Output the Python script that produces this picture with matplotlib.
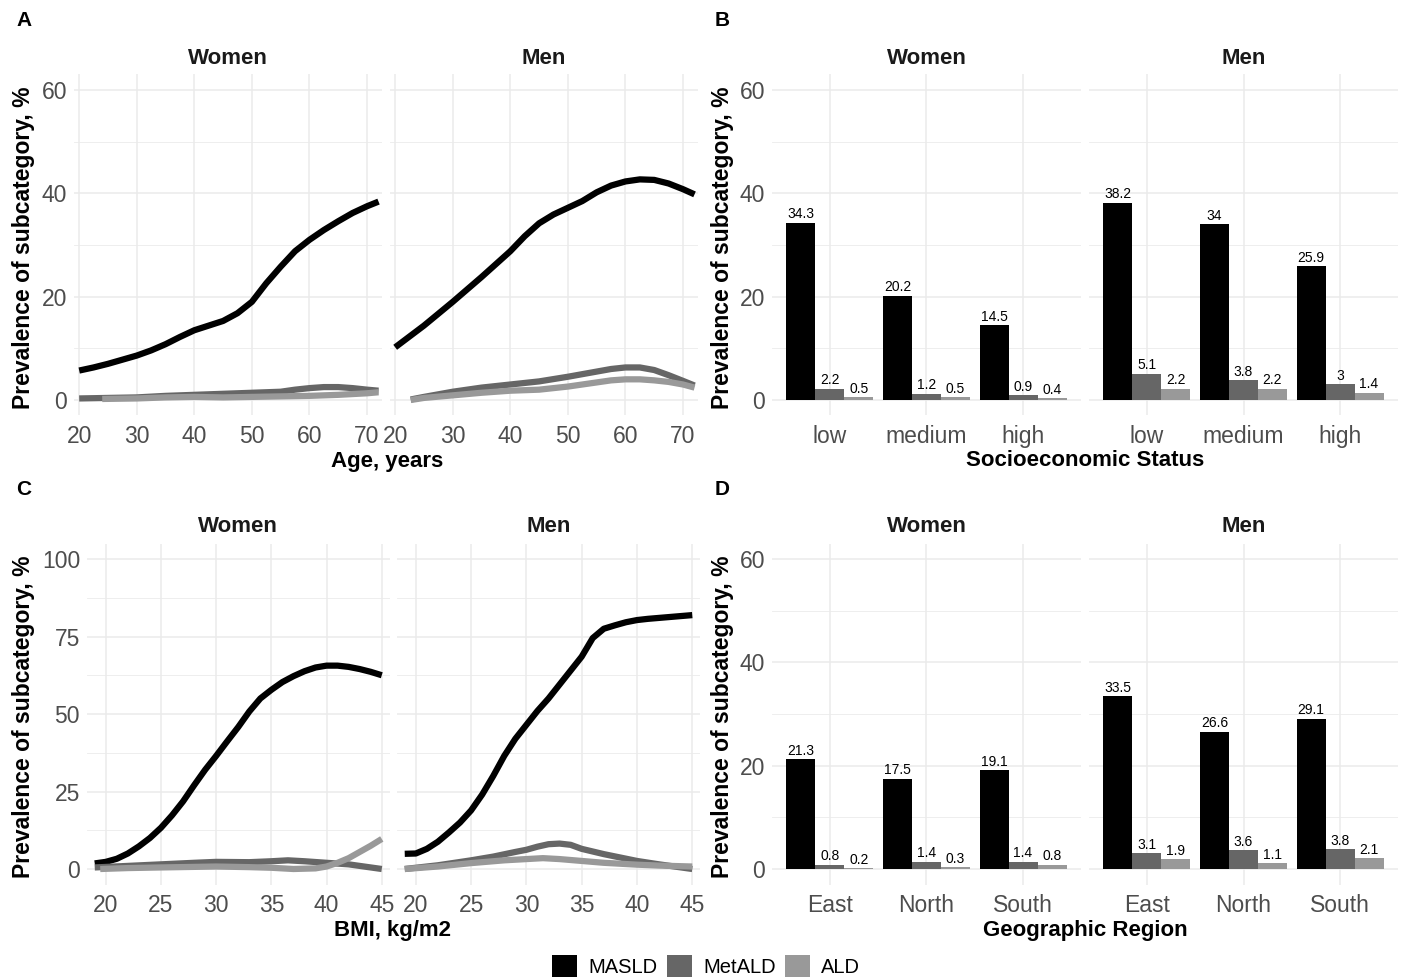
import matplotlib
matplotlib.use("Agg")
import matplotlib.pyplot as plt
from matplotlib.patches import Patch
import numpy as np

plt.rcParams['font.family'] = ['Liberation Sans', 'DejaVu Sans']

# ---------------- data ----------------
series_names = ["MASLD", "MetALD", "ALD"]
series_colors = ["#000000", "#666666", "#999999"]
sexes = ["Women", "Men"]

# Panel A: prevalence by age
age_w_masld_x = [20, 22.5, 25, 27.5, 30, 32.5, 35, 37.5, 40, 42.5, 45, 47.5, 50, 52.5, 55, 57.5, 60, 62.5, 65, 67.5, 70, 72]
age_w_masld_y = [5.7, 6.3, 7.0, 7.8, 8.6, 9.6, 10.8, 12.2, 13.5, 14.4, 15.3, 16.8, 19.0, 22.6, 25.8, 28.8, 31.0, 32.9, 34.6, 36.2, 37.5, 38.4]
age_w_metald_x = [20, 25, 30, 35, 40, 45, 50, 55, 57.5, 60, 62.5, 65, 67.5, 70, 72]
age_w_metald_y = [0.3, 0.4, 0.5, 0.8, 1.0, 1.2, 1.4, 1.6, 2.0, 2.3, 2.5, 2.5, 2.3, 2.0, 1.8]
age_w_ald_x = [24, 30, 35, 40, 45, 50, 55, 60, 65, 70, 72]
age_w_ald_y = [0.2, 0.3, 0.5, 0.6, 0.5, 0.6, 0.7, 0.8, 1.0, 1.3, 1.5]

age_m_masld_x = [20, 22.5, 25, 27.5, 30, 32.5, 35, 37.5, 40, 42.5, 45, 47.5, 50, 52.5, 55, 57.5, 60, 62.5, 65, 67.5, 70, 72]
age_m_masld_y = [10.2, 12.3, 14.4, 16.7, 19.0, 21.4, 23.8, 26.3, 28.8, 31.7, 34.2, 35.9, 37.2, 38.5, 40.2, 41.5, 42.3, 42.7, 42.6, 41.9, 40.8, 39.8]
age_m_metald_x = [22.7, 25, 30, 35, 40, 45, 50, 55, 57.5, 60, 62.5, 65, 67.5, 70, 72]
age_m_metald_y = [0.1, 0.6, 1.6, 2.4, 3.0, 3.6, 4.5, 5.5, 6.0, 6.3, 6.3, 5.8, 4.8, 3.7, 2.8]
age_m_ald_x = [22.7, 25, 30, 35, 40, 45, 50, 55, 57.5, 60, 62.5, 65, 67.5, 70, 72]
age_m_ald_y = [0.0, 0.4, 0.9, 1.4, 1.8, 2.0, 2.6, 3.4, 3.8, 4.0, 4.0, 3.8, 3.5, 3.0, 2.4]

# Panel C: prevalence by BMI
bmi_w_masld_x = [19, 20, 21, 22, 23, 24, 25, 26, 27, 28, 29, 30, 31, 32, 33, 34, 35, 36, 37, 38, 39, 40, 41, 42, 43, 44, 45]
bmi_w_masld_y = [1.8, 2.3, 3.3, 5.0, 7.3, 10.0, 13.3, 17.3, 21.8, 27.0, 32.0, 36.5, 41.2, 45.8, 50.8, 55.0, 57.8, 60.3, 62.2, 63.8, 65.0, 65.6, 65.6, 65.2, 64.5, 63.6, 62.5]
bmi_w_metald_x = [19, 22, 25, 28, 30, 33, 35, 36.5, 38, 40, 42, 45]
bmi_w_metald_y = [0.5, 1.0, 1.5, 2.0, 2.3, 2.2, 2.5, 2.8, 2.5, 2.0, 1.5, 0.0]
bmi_w_ald_x = [19.5, 22, 25, 30, 33, 35, 37, 39, 40, 41, 42, 43, 44, 45]
bmi_w_ald_y = [0.0, 0.3, 0.5, 0.8, 0.6, 0.4, 0.0, 0.2, 0.8, 2.0, 3.5, 5.5, 7.5, 9.7]

bmi_m_masld_x = [19, 20, 21, 22, 23, 24, 25, 26, 27, 28, 29, 30, 31, 32, 33, 34, 35, 36, 37, 38, 39, 40, 41, 42, 43, 44, 45]
bmi_m_masld_y = [4.9, 5.0, 6.5, 8.8, 11.8, 15.0, 18.9, 24.0, 30.0, 36.5, 42.0, 46.5, 51.0, 55.0, 59.5, 64.0, 68.5, 74.5, 77.5, 78.6, 79.6, 80.3, 80.7, 81.0, 81.3, 81.6, 81.9]
bmi_m_metald_x = [19, 22, 25, 27, 29, 30, 31, 32, 33, 34, 35, 37, 40, 42, 45]
bmi_m_metald_y = [0.0, 1.2, 2.8, 4.0, 5.5, 6.2, 7.2, 8.0, 8.2, 7.8, 6.5, 4.8, 2.6, 1.5, 0.0]
bmi_m_ald_x = [19, 22, 25, 28, 30, 31.5, 33, 35, 37, 40, 42, 45]
bmi_m_ald_y = [0.0, 0.8, 1.9, 2.8, 3.2, 3.5, 3.2, 2.6, 2.0, 1.4, 1.1, 0.8]

# Panel B: socioeconomic status
ses_categories = ["low", "medium", "high"]
ses_w_masld = [34.3, 20.2, 14.5]
ses_w_metald = [2.2, 1.2, 0.9]
ses_w_ald = [0.5, 0.5, 0.4]
ses_m_masld = [38.2, 34, 25.9]
ses_m_metald = [5.1, 3.8, 3]
ses_m_ald = [2.2, 2.2, 1.4]

# Panel D: geographic region
region_categories = ["East", "North", "South"]
reg_w_masld = [21.3, 17.5, 19.1]
reg_w_metald = [0.8, 1.4, 1.4]
reg_w_ald = [0.2, 0.3, 0.8]
reg_m_masld = [33.5, 26.6, 29.1]
reg_m_metald = [3.1, 3.6, 3.8]
reg_m_ald = [1.9, 1.1, 2.1]

# ---------------- layout ----------------
W, H = 1403, 980
fig = plt.figure(figsize=(W / 100, H / 100), dpi=100)
fig.patch.set_facecolor("white")

GRID = "#EBEBEB"
TICK = "#4D4D4D"
TFS = 16.5
YLAB = "Prevalence of subcategory, %"


def rect(l, r, t, b):
    return [l / W, 1 - b / H, (r - l) / W, (b - t) / H]


def ftext(x, y, s, **kw):
    fig.text(x / W, 1 - y / H, s, **kw)


def style(ax, ymaj, ymin, xmaj=None):
    ax.set_facecolor("white")
    for s in ax.spines.values():
        s.set_visible(False)
    ax.set_yticks(ymaj)
    ax.set_yticks(ymin, minor=True)
    if xmaj is not None:
        ax.set_xticks(xmaj)
    ax.grid(True, which="major", color=GRID, lw=1.1)
    ax.grid(True, which="minor", axis="y", color=GRID, lw=0.6)
    ax.set_axisbelow(True)
    ax.tick_params(which="both", length=0, labelsize=TFS, labelcolor=TICK)
    ax.tick_params(axis="y", pad=5)
    ax.tick_params(axis="x", pad=7)


def line_panel(axes, data, xlim, ylim, ymaj, ymin, xmaj):
    for i, ax in enumerate(axes):
        for (xs, ys), c in zip(data[i], series_colors):
            ax.plot(xs, ys, color=c, lw=4.5, solid_capstyle="butt", solid_joinstyle="round")
        ax.set_xlim(*xlim)
        ax.set_ylim(*ylim)
        style(ax, ymaj, ymin, xmaj)
        if i == 1:
            ax.tick_params(axis="y", labelleft=False)


def bar_panel(axes, cats, data, ylim, ymaj, ymin):
    x = np.arange(len(cats))
    w = 0.3
    for i, ax in enumerate(axes):
        for k, (vals, c) in enumerate(zip(data[i], series_colors)):
            pos = x + (k - 1) * w
            bars = ax.bar(pos, vals, width=w, color=c, zorder=2)
            for b, v in zip(bars, vals):
                ax.annotate(f"{v:g}", (b.get_x() + b.get_width() / 2, v),
                            xytext=(0, 1.0), textcoords="offset points",
                            ha="center", va="bottom", fontsize=10, color="black")
        ax.set_xlim(-0.6, len(cats) - 0.4)
        ax.set_ylim(*ylim)
        style(ax, ymaj, ymin, x)
        ax.set_xticklabels(cats)
        if i == 1:
            ax.tick_params(axis="y", labelleft=False)


# Panel A
axA = [fig.add_axes(rect(74, 382, 74.5, 415.5)), fig.add_axes(rect(390, 698, 74.5, 415.5))]
line_panel(axA,
           [[(age_w_masld_x, age_w_masld_y), (age_w_metald_x, age_w_metald_y), (age_w_ald_x, age_w_ald_y)],
            [(age_m_masld_x, age_m_masld_y), (age_m_metald_x, age_m_metald_y), (age_m_ald_x, age_m_ald_y)]],
           (19.1, 72.6), (-3, 63), [0, 20, 40, 60], [10, 30, 50], [20, 30, 40, 50, 60, 70])

# Panel B
axB = [fig.add_axes(rect(772, 1081, 74.5, 415.5)), fig.add_axes(rect(1089, 1398, 74.5, 415.5))]
bar_panel(axB, ses_categories,
          [[ses_w_masld, ses_w_metald, ses_w_ald], [ses_m_masld, ses_m_metald, ses_m_ald]],
          (-3, 63), [0, 20, 40, 60], [10, 30, 50])

# Panel C
axC = [fig.add_axes(rect(87, 389.5, 543.5, 884.5)), fig.add_axes(rect(397, 700, 543.5, 884.5))]
line_panel(axC,
           [[(bmi_w_masld_x, bmi_w_masld_y), (bmi_w_metald_x, bmi_w_metald_y), (bmi_w_ald_x, bmi_w_ald_y)],
            [(bmi_m_masld_x, bmi_m_masld_y), (bmi_m_metald_x, bmi_m_metald_y), (bmi_m_ald_x, bmi_m_ald_y)]],
           (18.3, 45.7), (-5, 105), [0, 25, 50, 75, 100], [12.5, 37.5, 62.5, 87.5], [20, 25, 30, 35, 40, 45])

# Panel D
axD = [fig.add_axes(rect(772, 1081, 543.5, 884.5)), fig.add_axes(rect(1089, 1398, 543.5, 884.5))]
bar_panel(axD, region_categories,
          [[reg_w_masld, reg_w_metald, reg_w_ald], [reg_m_masld, reg_m_metald, reg_m_ald]],
          (-3, 63), [0, 20, 40, 60], [10, 30, 50])

# strip titles
for axes, ystrip in [(axA, 58), (axB, 58), (axC, 527), (axD, 527)]:
    for ax, s in zip(axes, sexes):
        bb = ax.get_position()
        xc = (bb.x0 + bb.x1) / 2 * W
        ftext(xc, ystrip, s, ha="center", va="center", fontsize=16, fontweight="bold", color="#1A1A1A")

# y labels
for xl, yc in [(24, 248), (722, 248), (24, 717), (722, 717)]:
    ftext(xl, yc, YLAB, rotation=90, ha="center", va="center", fontsize=16.5, fontweight="bold")

# x titles
ftext(387, 461, "Age, years", ha="center", va="center", fontsize=16, fontweight="bold")
ftext(1085, 461, "Socioeconomic Status", ha="center", va="center", fontsize=16, fontweight="bold")
ftext(393, 930, "BMI, kg/m2", ha="center", va="center", fontsize=16, fontweight="bold")
ftext(1085, 930, "Geographic Region", ha="center", va="center", fontsize=16, fontweight="bold")

# panel tags
for x, y, s in [(24, 20, "A"), (722, 20, "B"), (24, 489, "C"), (722, 489, "D")]:
    ftext(x, y, s, ha="center", va="center", fontsize=15, fontweight="bold")

# legend
handles = [Patch(facecolor=c, edgecolor="none", label=n) for n, c in zip(series_names, series_colors)]
fig.legend(handles=handles, loc="center", bbox_to_anchor=(706 / W, 1 - 966 / H), ncol=3,
           frameon=False, fontsize=14.5, handlelength=1.25, handleheight=1.25,
           handletextpad=0.55, columnspacing=0.45, borderaxespad=0)

fig.savefig("out.png", dpi=100, facecolor="white")
